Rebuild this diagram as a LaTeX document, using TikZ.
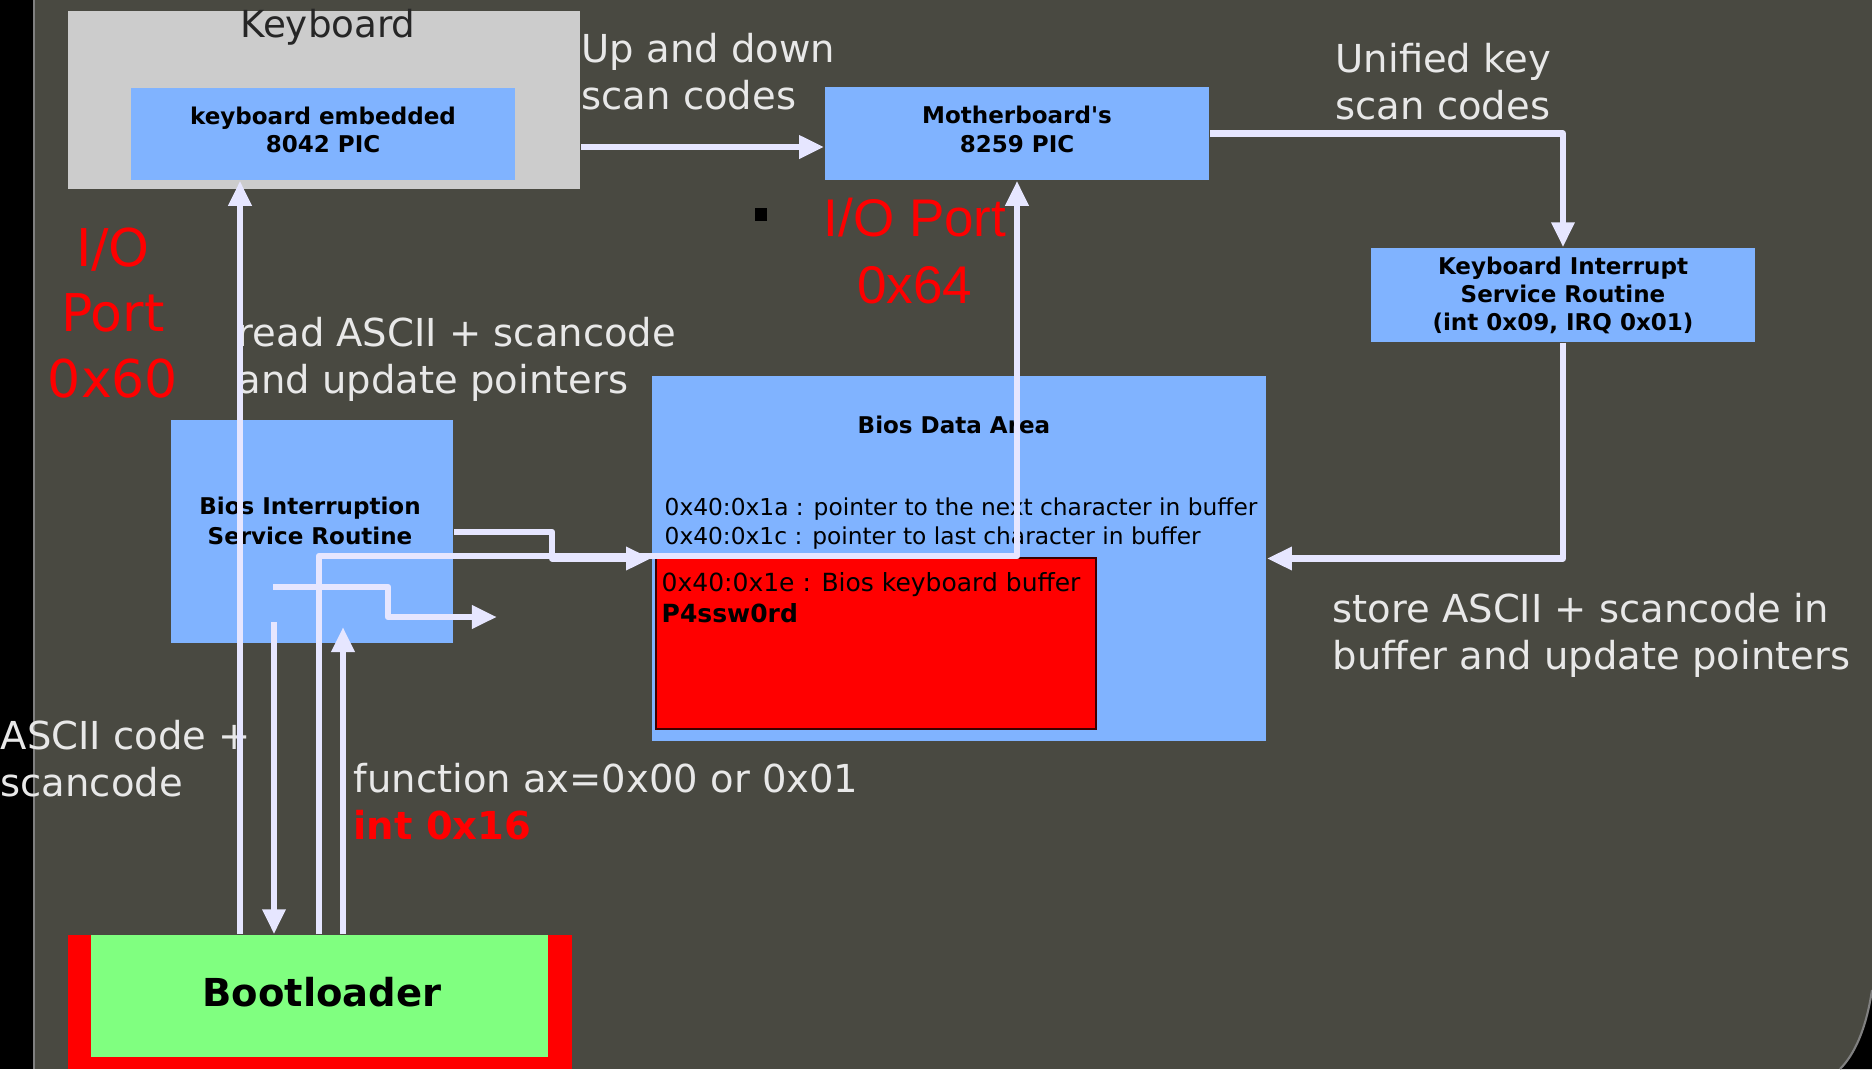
\documentclass[tikz,border=0pt]{standalone}
\usepackage{fontspec}
\setmainfont{DejaVu Sans}
\newfontfamily\portfont{Liberation Sans}
\usetikzlibrary{arrows.meta}
\definecolor{slideBg}{RGB}{73, 73, 65}
\definecolor{boxGrey}{RGB}{204, 204, 204}
\definecolor{boxBlue}{RGB}{128, 179, 255}
\definecolor{bootGreen}{RGB}{128, 255, 128}
\definecolor{portRed}{RGB}{255, 0, 0}
\definecolor{bufEdge}{RGB}{60, 0, 0}
\definecolor{wireLav}{RGB}{230, 230, 255}
\definecolor{labelGrey}{RGB}{232, 232, 232}

\begin{document}
\begin{tikzpicture}[x=0.01cm, y=-0.01cm,
    box/.style={fill=boxBlue, inner sep=0pt},
    boxtext/.style={inner sep=0pt, align=center, text=black,
      font=\fontsize{6.55pt}{8.1pt}\selectfont\bfseries},
    note/.style={text=labelGrey, inner sep=0pt, anchor=west, align=left,
      font=\fontsize{10.95pt}{13.37pt}\selectfont},
    port/.style={text=portRed, inner sep=0pt, align=center},
    flow/.style={draw=wireLav, line width=1.8pt, line join=round,
      -{Triangle[length=0.25cm, width=0.22cm]}}]
      \useasboundingbox (0,0) rectangle (1872,1069);

      % Slide background, left strip and rounded corner
      \fill[slideBg] (0,0) rectangle (1872,1069);
      \fill[black] (0,0) rectangle (33,1069);
      \draw[gray, line width=0.6pt] (34,0) -- (34,1069);
      \fill[black] (1872,990) .. controls (1866,1030) and (1854,1055) .. (1840,1069) -- (1872,1069) -- cycle;
      \draw[gray, line width=0.6pt] (1872,990) .. controls (1866,1030) and (1854,1055) .. (1840,1069);

      % Keyboard and its controller
      \node[fill=boxGrey, inner sep=0pt, minimum width=5.12cm, minimum height=1.78cm] (kb) at (324,100) {};
      \node[inner sep=0pt, text=black!85, font=\fontsize{10.6pt}{12pt}\selectfont] (kbtitle) at (328,27) {Keyboard};
      \node[box, minimum width=3.84cm, minimum height=0.92cm] (kbpic) at (323,134) {};
      \node[boxtext] (kbpictxt) at (323,130) {keyboard embedded\\8042 PIC};

      % Motherboard PIC and keyboard ISR
      \node[box, minimum width=3.84cm, minimum height=0.93cm] (mb) at (1017,133.5) {};
      \node[boxtext] (mbtxt) at (1017,129.5) {Motherboard\textquotesingle s\\8259 PIC};
      \node[box, minimum width=3.84cm, minimum height=0.94cm] (kisr) at (1563,295) {};
      \node[boxtext, font=\fontsize{6.55pt}{7.97pt}\selectfont\bfseries] (kisrtxt) at (1563,295)
        {Keyboard Interrupt\\Service Routine\\(int 0x09, IRQ 0x01)};

      % Bios ISR
      \node[box, minimum width=2.82cm, minimum height=2.23cm] (bisr) at (312,531.5) {};
      \node[boxtext, font=\fontsize{6.55pt}{8.5pt}\selectfont\bfseries] (bisrtxt) at (310,521) {Bios Interruption\\Service Routine};

      % Bios data area with the keyboard buffer
      \node[box, minimum width=6.14cm, minimum height=3.65cm] (bda) at (959,558.5) {};
      \node[boxtext] (bdatitle) at (954,425) {Bios Data Area};
      \node[inner sep=0pt, anchor=west, align=left, font=\fontsize{6.63pt}{8.25pt}\selectfont] (bdaptr) at (664,524)
        {0x40:0x1a : pointer to the next character in buffer\\0x40:0x1c : pointer to last character in buffer};
      \node[fill=portRed, draw=bufEdge, line width=0.6pt, inner sep=0pt, minimum width=4.40cm, minimum height=1.71cm] (buf) at (876,643.5) {};
      \node[inner sep=0pt, anchor=west, align=left, font=\fontsize{7.11pt}{8.82pt}\selectfont] (buftxt) at (661,598)
        {0x40:0x1e : Bios keyboard buffer\\\textbf{P4ssw0rd}};

      % Bootloader
      \fill[portRed] (68,935) rectangle (572,1069);
      \node[fill=bootGreen, inner sep=0pt, minimum width=4.57cm, minimum height=1.22cm] (boot) at (319.5,996) {};
      \node[inner sep=0pt, font=\fontsize{10.95pt}{13pt}\selectfont\bfseries] (boottxt) at (322,992) {Bootloader};

      % Labels
      \node[note] (updown) at (581,72) {Up and down\\scan codes};
      \node[note] (unified) at (1335,82) {Unified key\\scan codes};
      \node[note] (readlbl) at (237,359.5) {read ASCII + scancode\\and update pointers};
      \node[note] (storelbl) at (1332,635.5) {store ASCII + scancode in\\buffer and update pointers};
      \node[note] (asciilbl) at (0,758.5) {ASCII code +\\scancode};
      \node[note] (funclbl) at (353,802) {function ax=0x00 or 0x01\\\textcolor{portRed}{\bfseries int 0x16}};
      \node[port, font=\fontsize{14.8pt}{18.5pt}\selectfont] (port60) at (113,313) {I/O\\Port\\0x60};
      \node[port, font=\portfont\fontsize{15.08pt}{19.06pt}\selectfont] (port64) at (915,251) {I/O Port\\0x64};
      \node[fill=black, inner sep=0pt, minimum width=0.12cm, minimum height=0.13cm] (bullet) at (761,214.5) {};

      % Connectors
      \coordinate (bisrout) at (274,622);
      \coordinate (bisrin) at (343,627);
      \coordinate (keyin) at (273,587);
      \coordinate (keyout) at (497,617);
      \draw[flow] (kb.east |- 0,147) -- (mb.west |- 0,147);
      \draw[flow] (mb.east) -| (kisr.north);
      \draw[flow] (kisr.south) |- (bda.east);
      \draw[flow] (boot.north -| 240,0) -- (kbpic.south -| 240,0);
      \draw[flow] (bisr.east |- 0,532) -- (552,532) |- (bda.west);
      \draw[flow] (boot.north -| 319,0) -- (319,556) -| (mb.south);
      \draw[flow] (keyin) -- (388,587) |- (keyout);
      \draw[flow] (bisrout) -- (boot.north -| bisrout);
      \draw[flow] (boot.north -| bisrin) -- (bisrin);
    \end{tikzpicture}
\end{document}
